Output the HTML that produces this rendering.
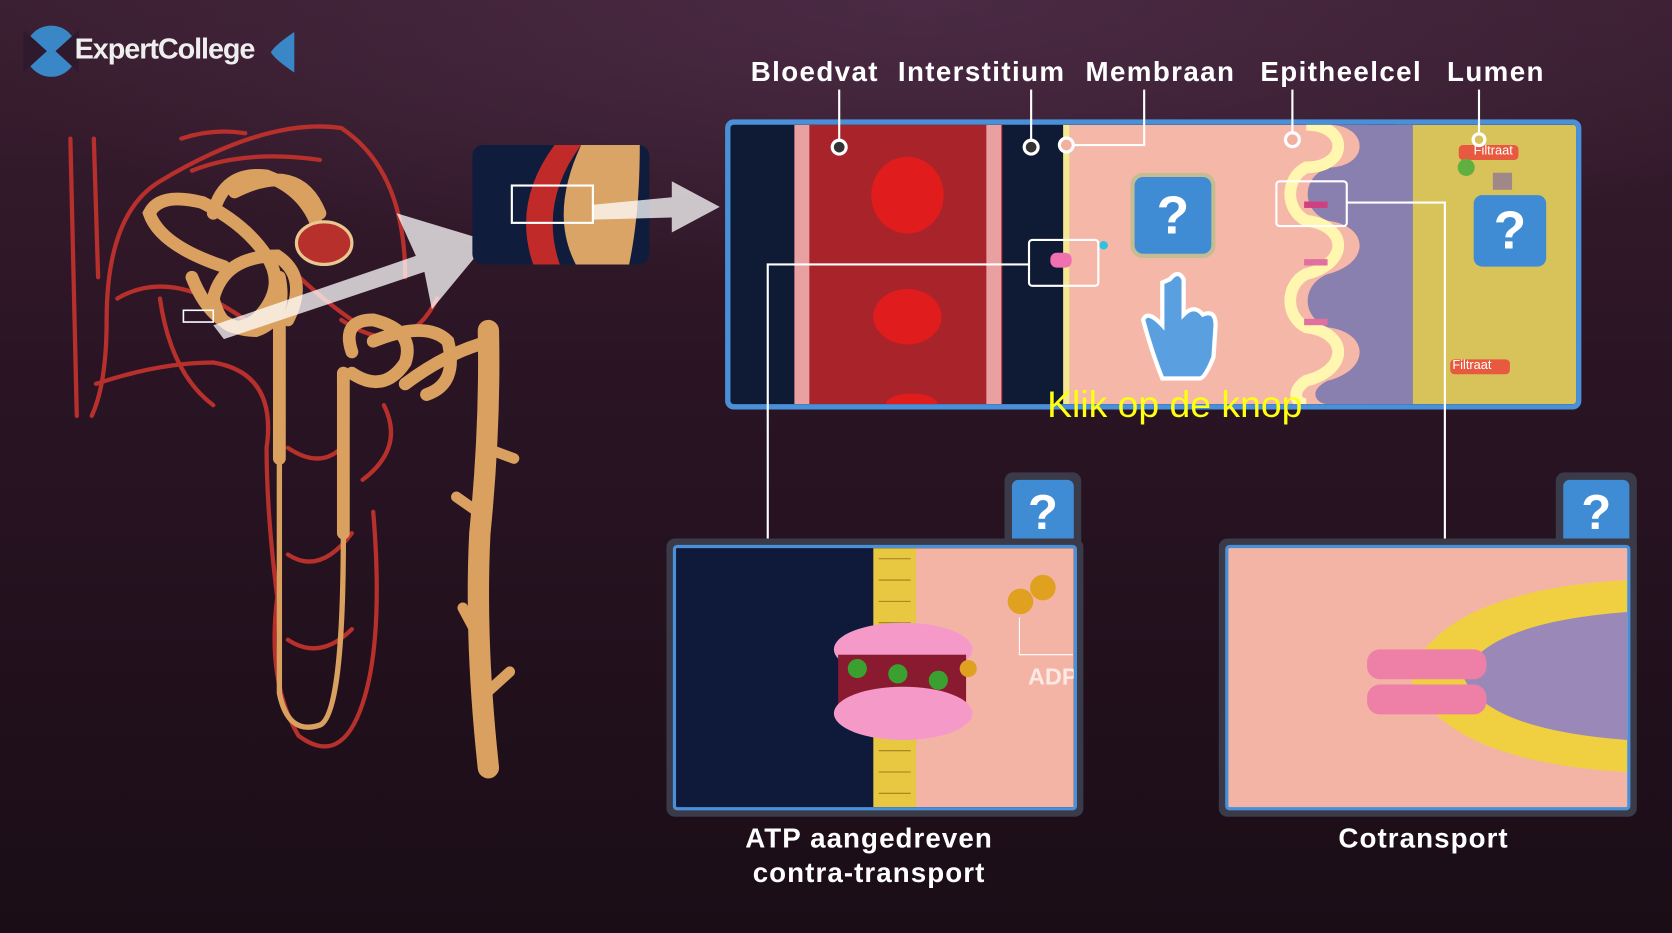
<!DOCTYPE html>
<html><head><meta charset="utf-8"><style>
html,body{margin:0;padding:0;width:1672px;height:933px;overflow:hidden;background:#1c0f1a}
#w{position:absolute;left:0;top:0;width:1568px;height:875px;transform:scale(1.06633,1.06629);transform-origin:0 0;
background:radial-gradient(ellipse 60% 30% at 55% 0%,#4a2a44 0%,rgba(60,30,50,0) 100%),linear-gradient(180deg,#3a1e30 0%,#2a1424 40%,#1a0d16 100%);font-family:"Liberation Sans",sans-serif}
.a{position:absolute}
.lbl{position:absolute;color:#fff;font-weight:bold;font-size:26px;letter-spacing:1.3px;white-space:nowrap}
.q{position:absolute;background:#3f8bd4;border-radius:8px;color:#fff;font-weight:bold;text-align:center}
</style></head><body><div id="w">
<svg class="a" style="left:0;top:0" width="1568" height="875">
<!-- logo -->
<circle cx="48" cy="48" r="24" fill="#3a87c8"/>
<path d="M22 28 L44 48 L22 68 Z M74 28 L52 48 L74 68 Z" fill="#2e1a2c"/>
<path d="M276 30 L276 68 Q258 56 254 49 Q258 42 276 30 Z" fill="#3a87c8"/>
<!-- nephron vessels -->
<g fill="none" stroke="#b8302c" stroke-width="4" stroke-linecap="round">
<path d="M66 130 L72 390"/><path d="M88 130 L92 260"/>
<path d="M86 390 Q100 360 100 300 Q100 200 150 170 Q250 110 320 120 Q380 160 380 260"/>
<path d="M90 360 Q150 340 200 340 Q260 350 250 420 Q250 480 260 560 Q250 640 280 690 Q320 720 340 660 Q360 600 350 480"/>
<path d="M110 280 Q160 250 230 300 M150 280 Q160 350 200 380 M260 240 Q300 280 330 300 M320 300 Q380 340 410 280"/>
<path d="M270 420 Q300 440 320 420 M270 520 Q300 540 330 500 M270 600 Q300 620 330 590"/>
<path d="M170 130 Q200 120 230 125 M180 160 Q230 140 300 150 M360 380 Q380 420 340 450"/>
</g>
<g fill="none" stroke="#d9a060" stroke-width="12" stroke-linecap="round">
<path d="M210 250 Q150 230 140 200 Q150 180 190 190 Q230 210 250 240 Q270 270 240 300 Q210 320 200 280 Q210 240 260 240 Q290 260 270 300"/>
<path d="M200 200 Q210 160 250 165 Q290 180 300 220 M220 180 Q280 150 300 200"/>
<path d="M180 260 Q200 310 240 310 Q270 300 262 260"/>
<path d="M262 300 L262 430"/><path d="M322 350 L322 500"/>
<path d="M330 330 Q320 300 350 300 Q390 310 380 340 Q360 370 330 350"/>
<path d="M350 320 Q400 300 420 320 Q430 360 400 370"/>
<path d="M380 360 Q420 330 460 320"/>
<path d="M458 310 Q460 400 450 500 Q445 600 458 720" stroke-width="20"/>
<path d="M448 480 L428 466 M455 420 L482 430 M450 600 L434 570 M456 650 L478 630" stroke-width="10"/>
</g>
<path d="M262 430 L262 650 Q270 690 300 680 Q322 670 322 500" fill="none" stroke="#d9a060" stroke-width="5"/>
<ellipse cx="304" cy="228" rx="26" ry="20" fill="#b8302c" stroke="#e8c890" stroke-width="3"/>
<rect x="172" y="291" width="28" height="11" fill="none" stroke="#fff" stroke-width="1.5"/>
<!-- big arrow -->
<path d="M200 305 L390 240 L372 200 L458 226 L405 290 L398 255 L210 318 Z" fill="#fff" opacity="0.75"/>
<!-- thumbnail -->
<rect x="443" y="136" width="166" height="112" rx="10" fill="#0f1c3c"/>
<path d="M520 136 Q480 190 500 248 L525 248 Q505 190 545 136 Z" fill="#c02a28"/>
<path d="M545 136 Q515 200 540 248 L590 248 Q600 200 600 136 Z" fill="#d9a466"/>
<rect x="480" y="174" width="76" height="35" fill="none" stroke="#fff" stroke-width="2"/>
<path d="M556 192 L630 185 L630 170 L675 194 L630 218 L630 204 L556 206 Z" fill="#fff" opacity="0.75"/>
</svg>
<div class="a" style="left:70px;top:31px;color:#eee;font-size:27px;font-weight:bold;letter-spacing:-1px">ExpertCollege</div>

<!-- labels -->
<div class="lbl" style="left:704px;top:52px">Bloedvat</div>
<div class="lbl" style="left:842px;top:52px">Interstitium</div>
<div class="lbl" style="left:1018px;top:52px">Membraan</div>
<div class="lbl" style="left:1182px;top:52px">Epitheelcel</div>
<div class="lbl" style="left:1357px;top:52px">Lumen</div>

<!-- main panel -->
<div class="a" style="left:680px;top:112px;width:793px;height:262px;border:5px solid #4a90d9;border-radius:8px;overflow:hidden;background:#0f1a35">
<svg width="793" height="262" style="position:absolute;left:0;top:0">
<rect x="60" y="0" width="195" height="262" fill="#a8242a"/>
<rect x="60" y="0" width="14" height="262" fill="#e8a0a0"/>
<rect x="240" y="0" width="14" height="262" fill="#e8a0a0"/>
<ellipse cx="166" cy="66" rx="34" ry="36" fill="#e01c1c"/>
<ellipse cx="166" cy="180" rx="32" ry="26" fill="#e01c1c"/>
<ellipse cx="170" cy="262" rx="24" ry="10" fill="#e01c1c"/>
<rect x="312" y="0" width="6" height="262" fill="#f5e890"/>
<rect x="318" y="0" width="280" height="262" fill="#f5b8a8"/>
<rect x="625" y="0" width="168" height="262" fill="#d8c25a"/>
<path d="M560 0 C600 0 600 40 560 40 C535 50 535 80 560 90 C600 95 600 130 560 140 C535 150 535 180 560 190 C600 195 600 230 560 240 C540 250 550 262 560 262 L640 262 L640 0 Z" fill="#8a80b0"/>
<path d="M560 0 C600 0 600 40 560 40 C535 50 535 80 560 90 C600 95 600 130 560 140 C535 150 535 180 560 190 C600 195 600 230 560 240 C540 250 550 262 560 262 L540 262 C525 250 525 240 540 240 C580 230 580 195 540 190 C520 180 520 150 540 140 C580 130 580 95 540 90 C520 80 520 50 540 40 C580 40 580 0 540 0 Z" fill="#f5b8a8"/>
<path d="M540 0 C580 0 580 40 540 40 C520 50 520 80 540 90 C580 95 580 130 540 140 C520 150 520 180 540 190 C580 195 580 230 540 240 C525 250 530 262 540 262" fill="none" stroke="#fff6b0" stroke-width="11"/>
<rect x="538" y="72" width="22" height="6" fill="#d04080"/><rect x="538" y="126" width="22" height="6" fill="#e070a0"/><rect x="538" y="182" width="22" height="6" fill="#e070a0"/>
<rect x="683" y="19" width="56" height="14" rx="4" fill="#e85a40"/><rect x="675" y="220" width="56" height="14" rx="4" fill="#e85a40"/>
<circle cx="690" cy="40" r="8" fill="#60b040"/><rect x="715" y="45" width="18" height="16" fill="#a08888"/>
<rect x="300" y="120" width="20" height="14" rx="6" fill="#f070b0"/>
<circle cx="350" cy="113" r="4" fill="#30c0e0"/>
</svg>
<div class="a" style="left:697px;top:17px;color:#fff;font-size:12px">Filtraat</div>
<div class="a" style="left:677px;top:218px;color:#fff;font-size:12px">Filtraat</div>
</div>

<!-- leader lines -->
<svg class="a" style="left:0;top:0" width="1568" height="875">
<g stroke="#fff" stroke-width="2" fill="none">
<path d="M787 84 V131"/><path d="M967 84 V131"/><path d="M1073 84 V136 H1008"/><path d="M1212 84 V124"/><path d="M1387 84 V124"/>
<rect x="965" y="225" width="65" height="43" rx="3"/><rect x="1197" y="170" width="66" height="42" rx="3"/>
<path d="M965 248 H720 V508"/><path d="M1263 190 H1355 V508"/>
</g>
<g fill="#fff"><circle cx="787" cy="138" r="8"/><circle cx="967" cy="138" r="8"/><circle cx="1000" cy="136" r="8"/><circle cx="1212" cy="131" r="8"/><circle cx="1387" cy="131" r="7"/></g>
<g fill="#333"><circle cx="787" cy="138" r="5"/><circle cx="967" cy="138" r="5"/></g>
<g fill="#f3b0a0"><circle cx="1000" cy="136" r="5"/><circle cx="1212" cy="131" r="5"/></g>
<circle cx="1387" cy="131" r="4" fill="#d8c25a"/>
<!-- hand -->
<path d="M1097 262 Q1105 252 1110 262 L1110 295 Q1120 285 1128 295 Q1140 290 1140 305 L1138 335 Q1130 355 1125 355 L1090 355 Q1080 330 1072 300 Q1076 290 1090 305 L1090 265 Z" fill="#5aa0e0" stroke="#fff" stroke-width="4"/>
</svg>
<div class="q" style="left:1060px;top:162px;width:72px;height:72px;border:4px solid rgba(255,210,120,.7);border-radius:12px;background:#3f8bd4;font-size:50px;line-height:72px">?</div>
<div class="q" style="left:1382px;top:183px;width:68px;height:67px;font-size:50px;line-height:67px">?</div>
<div class="a" style="left:982px;top:360px;color:#ffff10;font-size:35px;white-space:nowrap">Klik op de knop</div>

<!-- bottom left panel -->
<div class="a" style="left:942px;top:443px;width:72px;height:80px;background:#3a3a48;border-radius:8px 8px 0 0"></div>
<div class="q" style="left:949px;top:450px;width:58px;height:60px;font-size:46px;line-height:60px;border-radius:6px 6px 0 0">?</div>
<div class="a" style="left:625px;top:505px;width:391px;height:261px;background:#3a3a48;border-radius:8px"></div>
<div class="a" style="left:631px;top:511px;width:373px;height:243px;border:3px solid #4a90d9;border-radius:4px;overflow:hidden;background:#0f1a3a">
<svg width="373" height="243">
<rect x="225" y="0" width="150" height="243" fill="#f3b4a6"/>
<rect x="185" y="0" width="40" height="243" fill="#e8c840"/>
<g stroke="#a08020" stroke-width="1">
<path d="M190 10 H220 M190 30 H220 M190 50 H220 M190 70 H220 M190 90 H220 M190 110 H220 M190 130 H220 M190 150 H220 M190 170 H220 M190 190 H220 M190 210 H220 M190 230 H220"/></g>
<ellipse cx="213" cy="95" rx="65" ry="25" fill="#f59ac8"/>
<rect x="152" y="100" width="120" height="50" fill="#8a1a30"/>
<ellipse cx="213" cy="155" rx="65" ry="25" fill="#f59ac8"/>
<g fill="#3aa030"><circle cx="170" cy="113" r="9"/><circle cx="208" cy="118" r="9"/><circle cx="246" cy="124" r="9"/></g>
<circle cx="274" cy="113" r="8" fill="#e0a020"/>
<circle cx="323" cy="50" r="12" fill="#e0a020"/><circle cx="344" cy="37" r="12" fill="#e0a020"/>
<path d="M322 65 V100 H372" stroke="#fff" fill="none"/>
</svg>
<div class="a" style="left:330px;top:108px;color:#fff;opacity:.7;font-size:22px;font-weight:bold">ADP</div>
</div>

<!-- bottom right panel -->
<div class="a" style="left:1459px;top:443px;width:76px;height:80px;background:#3a3a48;border-radius:8px 8px 0 0"></div>
<div class="q" style="left:1466px;top:450px;width:62px;height:60px;font-size:46px;line-height:60px;border-radius:6px 6px 0 0">?</div>
<div class="a" style="left:1143px;top:505px;width:392px;height:261px;background:#3a3a48;border-radius:8px"></div>
<div class="a" style="left:1149px;top:511px;width:374px;height:243px;border:3px solid #4a90d9;border-radius:4px;overflow:hidden;background:#f3b4a6">
<svg width="374" height="243">
<path d="M374 30 Q200 40 170 120 Q200 200 374 210 Z" fill="#f0d040"/>
<path d="M374 60 Q240 70 220 120 Q240 170 374 180 Z" fill="#9a88b8"/>
<rect x="130" y="95" width="112" height="28" rx="12" fill="#ee80a8"/>
<rect x="130" y="128" width="112" height="28" rx="12" fill="#ee80a8"/>
</svg>
</div>

<div class="lbl" style="left:600px;top:770px;width:430px;text-align:center;line-height:32px;letter-spacing:1px">ATP aangedreven<br>contra-transport</div>
<div class="lbl" style="left:1140px;top:770px;width:390px;text-align:center;line-height:32px;letter-spacing:1px">Cotransport</div>
</div></body></html>
